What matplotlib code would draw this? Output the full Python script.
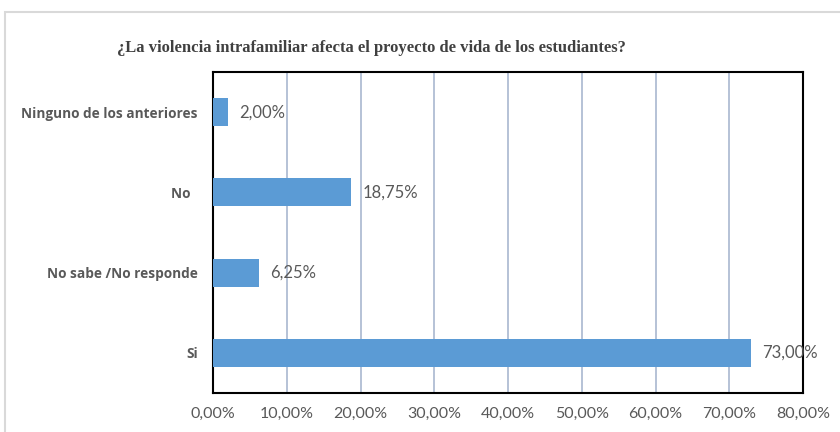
import matplotlib
matplotlib.use("Agg")
import matplotlib.pyplot as plt
from matplotlib.patches import Rectangle
from matplotlib.ticker import FuncFormatter

categories = ["Ninguno de los anteriores", "No", "No sabe /No responde", "Si"]
values = [2.00, 18.75, 6.25, 73.00]
xticks = [0, 10, 20, 30, 40, 50, 60, 70, 80]
title = "¿La violencia intrafamiliar afecta el proyecto de vida de los estudiantes?"

fig = plt.figure(figsize=(8.4, 4.32), dpi=100)
fig.patches.append(Rectangle((5/840, -0.1), 1.0, 1 - 12/432 + 0.1, transform=fig.transFigure,
                             fill=False, edgecolor="#D9D9D9", linewidth=1.5))
ax = fig.add_axes([213/840, 1 - 393/432, 590/840, 321/432])

ypos = list(range(len(categories)))
ax.barh(ypos, values, height=0.35, color="#5B9BD5", zorder=3)
ax.set_ylim(3.5, -0.5)
ax.set_xlim(0, 80)
ax.set_xticks(xticks)
ax.xaxis.set_major_formatter(FuncFormatter(lambda v, p: f"{v:.2f}%".replace(".", ",")))
ax.set_yticks(ypos)
ax.set_yticklabels([c + ("  " if c == "No" else "") for c in categories],
                   fontfamily="Open Sans", fontweight="bold", fontsize=9.8, color="#595959")
ax.grid(axis="x", color="#A9B8CF", linewidth=1.2, zorder=0)
for s in ax.spines.values():
    s.set_color("black")
    s.set_linewidth(1.5)
ax.tick_params(axis="both", length=0)
ax.tick_params(axis="x", pad=10, labelsize=11.5, labelcolor="#595959")
ax.tick_params(axis="y", pad=11)
for lab in ax.get_xticklabels():
    lab.set_fontfamily("Lato")

for y, v in zip(ypos, values):
    ax.annotate(f"{v:.2f}%".replace(".", ","), (v, y), xytext=(8, 0), textcoords="offset points",
                va="center", ha="left", fontsize=12, color="#595959", fontfamily="Lato")

fig.text(371/840, 1 - 48/432, title, ha="center", va="center", fontfamily="Liberation Serif",
         fontweight="bold", fontsize=12, color="#404040")

fig.savefig("out.png", dpi=100)
